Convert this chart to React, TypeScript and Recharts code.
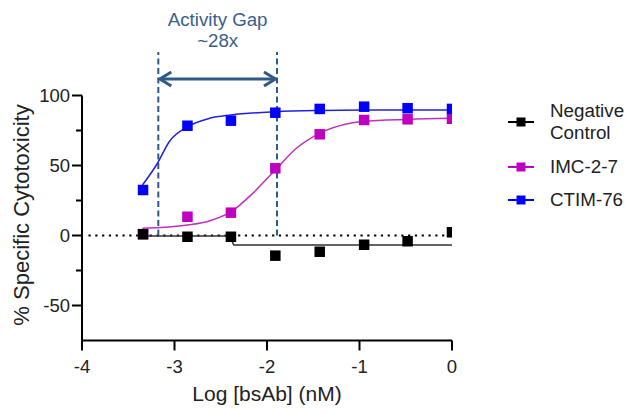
import React from 'react';
import {
  ComposedChart,
  Line,
  Scatter,
  XAxis,
  YAxis,
  ReferenceLine,
} from 'recharts';

// ---- data ----
const logDose = [-3.34, -2.86, -2.39, -1.91, -1.43, -0.95, -0.48, 0];
const negativeControl = [0.9, -0.9, -0.9, -14.4, -11.6, -6.6, -4.1, 2.3];
const imc27 = [1.0, 13.4, 16.3, 48, 72.3, 82.5, 83, 83.4];
const ctim76 = [32.5, 78.4, 82, 87.7, 90.4, 92, 90.9, 90.4];

const negFitX = [-3.34, -2.4, -2.36, 0];
const negFitY = [-0.4, -0.4, -6.8, -6.8];
const imcFitX = [-3.346, -2.859, -2.623, -2.388, -2.154, -1.911, -1.683, -1.431, -1.141, -0.96, -0.48, 0];
const imcFitY = [5.1, 7.5, 10.4, 17, 30.1, 46.8, 62.3, 73, 79.6, 81.4, 82.9, 83.7];
const ctimFitX = [-3.346, -3.184, -3.057, -2.859, -2.623, -2.388, -1.911, -1.43, -0.95, 0];
const ctimFitY = [36.1, 51.6, 67, 77.7, 83.7, 86.1, 88.4, 89.3, 89.6, 89.7];

const xTicks = [-4, -3, -2, -1, 0];
const yTicks = [-50, -25, 0, 25, 50, 75, 100];
const yLabeled = [-50, 0, 50, 100];

const seriesNames = ['Negative Control', 'IMC-2-7', 'CTIM-76'];
const seriesColors = ['#000000', '#C000C0', '#0000FF'];
const fitColors = ['#333333', '#C030C0', '#2222DD'];

const gapLines = [-3.175, -1.892];
const gapTop = 131;
const arrowY = 111.8;
const gapTitle = 'Activity Gap';
const gapFold = '~28x';

const FONT = '"Liberation Sans", Arial, sans-serif';
const ANNOT = '#2E5A88';

const zip = (xs: number[], ys: number[]) => xs.map((x, i) => ({ x, y: ys[i] }));

const pointSets = [zip(logDose, negativeControl), zip(logDose, imc27), zip(logDose, ctim76)];
const fitSets = [zip(negFitX, negFitY), zip(imcFitX, imcFitY), zip(ctimFitX, ctimFitY)];

const squareShape = (color: string) => (props: any) => {
  const { cx, cy } = props;
  if (cx == null || cy == null) return <g />;
  return <rect x={cx - 5.25} y={cy - 5.25} width={10.5} height={10.5} fill={color} />;
};

const YTick = (props: any) => {
  const { x, y, payload } = props;
  const v = payload.value;
  const major = yLabeled.includes(v);
  return (
    <g>
      <line x1={x - (major ? 10 : 6)} x2={x} y1={y} y2={y} stroke="#000" strokeWidth={2} />
      {major && (
        <text x={x - 12} y={y + 6.5} textAnchor="end" fontSize={18.5} fontFamily={FONT} fill="#222">
          {v}
        </text>
      )}
    </g>
  );
};

const XTick = (props: any) => {
  const { x, y, payload } = props;
  return (
    <g>
      <line x1={x} x2={x} y1={y} y2={y + 10} stroke="#000" strokeWidth={2} />
      <text x={x} y={y + 32.5} textAnchor="middle" fontSize={18.5} fontFamily={FONT} fill="#222">
        {payload.value}
      </text>
    </g>
  );
};

const ArrowShape = (props: any) => {
  const { x1, y1, x2, y2 } = props;
  if (x1 == null) return <g />;
  const mid = (x1 + x2) / 2;
  return (
    <g>
      <line x1={x1 + 1.5} y1={y1} x2={x2 - 1.5} y2={y2} stroke={ANNOT} strokeWidth={3} />
      <polyline points={`${x1 + 13},${y1 - 7} ${x1 + 1.5},${y1} ${x1 + 13},${y1 + 7}`} fill="none" stroke={ANNOT} strokeWidth={3} />
      <polyline points={`${x2 - 13},${y2 - 7} ${x2 - 1.5},${y2} ${x2 - 13},${y2 + 7}`} fill="none" stroke={ANNOT} strokeWidth={3} />
      <text x={mid} y={y1 - 53} textAnchor="middle" fontSize={18.7} fontFamily={FONT} fill="#3B5E8C">
        {gapTitle}
      </text>
      <text x={mid} y={y1 - 32} textAnchor="middle" fontSize={18.7} fontFamily={FONT} fill="#3B5E8C">
        {gapFold}
      </text>
    </g>
  );
};

const LegendBlock = () => (
  <div
    style={{
      position: 'absolute',
      left: 508,
      top: 100,
      width: 124,
      fontFamily: FONT,
      fontSize: 18.8,
      color: '#222',
      lineHeight: '22.3px',
    }}
  >
    {seriesNames.map((name, i) => (
      <div key={name} style={{ display: 'flex', alignItems: 'center', marginBottom: 11 }}>
        <svg width={26} height={12} style={{ flex: 'none' }}>
          <line x1={0} x2={26} y1={6} y2={6} stroke={seriesColors[i]} strokeWidth={2} />
          <rect x={8.5} y={1.5} width={9} height={9} fill={seriesColors[i]} />
        </svg>
        <div style={{ marginLeft: 16, width: 80 }}>{name}</div>
      </div>
    ))}
  </div>
);

export default function App() {
  return (
    <div style={{ position: 'absolute', left: 0, top: 0, width: 632, height: 414, background: '#fff' }}>
      <ComposedChart width={632} height={414} margin={{ top: 95.5, right: 180, bottom: 13.5, left: 0 }}>
        <XAxis
          type="number"
          dataKey="x"
          domain={[-4, 0]}
          ticks={xTicks}
          allowDataOverflow
          height={60}
          axisLine={{ stroke: '#000', strokeWidth: 2 }}
          tickLine={false}
          tickSize={0}
          tickMargin={0}
          tick={<XTick />}
          interval={0}
          label={{
            content: (p: any) => {
              const vb = p.viewBox || {};
              return (
                <text x={vb.x + vb.width / 2} y={vb.y + 60} textAnchor="middle" fontSize={21} fontFamily={FONT} fill="#222">
                  Log [bsAb] (nM)
                </text>
              );
            },
          }}
        />
        <YAxis
          type="number"
          dataKey="y"
          domain={[-75, 100]}
          ticks={yTicks}
          allowDataOverflow
          width={82}
          axisLine={{ stroke: '#000', strokeWidth: 2 }}
          tickLine={false}
          tickSize={0}
          tickMargin={0}
          tick={<YTick />}
          interval={0}
          label={{
            content: (p: any) => {
              const vb = p.viewBox || {};
              const cx = vb.x + 28.5;
              const cy = vb.y + vb.height / 2 - 3;
              return (
                <text x={cx} y={cy} textAnchor="middle" fontSize={22} fontFamily={FONT} fill="#222" transform={`rotate(-90, ${cx}, ${cy})`}>
                  % Specific Cytotoxicity
                </text>
              );
            },
          }}
        />
        <ReferenceLine
          segment={[{ x: -3.93, y: 0 }, { x: 0, y: 0 }]}
          stroke="#000"
          strokeWidth={2.2}
          strokeDasharray="2.2 4.6"
          ifOverflow="visible"
        />
        {gapLines.map((gx) => (
          <ReferenceLine
            key={gx}
            segment={[{ x: gx, y: 0 }, { x: gx, y: gapTop }]}
            stroke={ANNOT}
            strokeWidth={2}
            strokeDasharray="6 3.5"
            ifOverflow="visible"
          />
        ))}
        <ReferenceLine
          segment={[{ x: gapLines[0], y: arrowY }, { x: gapLines[1], y: arrowY }]}
          ifOverflow="visible"
          shape={<ArrowShape />}
        />
        {fitSets.map((d, i) => (
          <Line
            key={'fit' + i}
            data={d}
            dataKey="y"
            type={i === 0 ? 'linear' : 'monotone'}
            stroke={fitColors[i]}
            strokeWidth={1.5}
            dot={false}
            activeDot={false}
            isAnimationActive={false}
            legendType="none"
          />
        ))}
        {[1, 2, 0].map((i) => (
          <Scatter
            key={'pts' + i}
            name={seriesNames[i]}
            data={pointSets[i]}
            fill={seriesColors[i]}
            shape={squareShape(seriesColors[i])}
            isAnimationActive={false}
          />
        ))}
      </ComposedChart>
      <LegendBlock />
    </div>
  );
}
